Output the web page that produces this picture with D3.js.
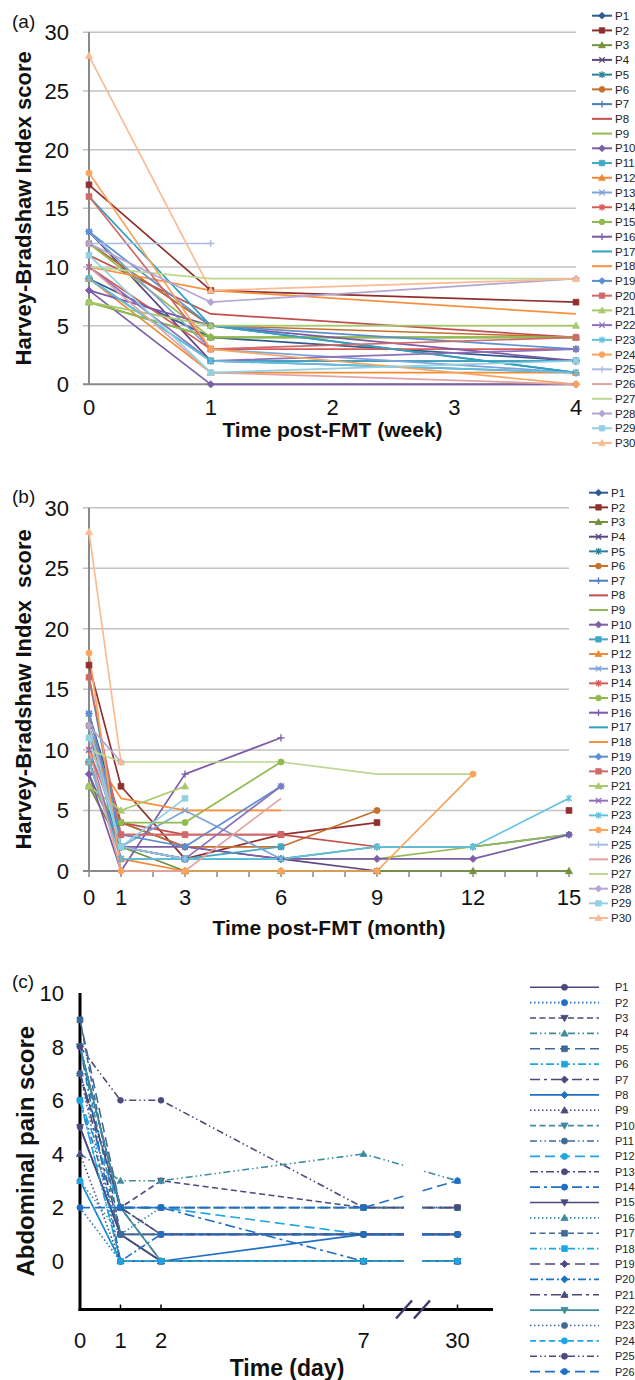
<!DOCTYPE html>
<html>
<head>
<meta charset="utf-8">
<script src="https://cdn.jsdelivr.net/npm/d3@7"></script>
<style>
  body { margin: 0; background: #fff; }
  svg { display: block; font-family: "Liberation Sans", Arial, sans-serif; }
</style>
</head>
<body>
<svg id="chart" width="635" height="1380"></svg>
<script>
// ---------- data ----------
const patients = ["P1","P2","P3","P4","P5","P6","P7","P8","P9","P10","P11","P12","P13","P14","P15",
  "P16","P17","P18","P19","P20","P21","P22","P23","P24","P25","P26","P27","P28","P29","P30"];
const hbiTicks = [0, 5, 10, 15, 20, 25, 30];

// (a) Harvey-Bradshaw Index, weeks 0 / 1 / 4
const weekTicks = [0, 1, 2, 3, 4];
const weekVisits = [0, 1, 4];
const weekScores = [
  [9, 4, 2], [17, 8, 7], [7, 4, 4], [13, 2, 2], [12, 5, 1], [12, 5, 4], [9, 2, 1], [11, 6, 4],
  [12, 4, 4], [8, 0, 0], [9, 2, 2], [9, 1, 1], [13, 3, 1], [10, 3, 3], [7, 4, 4], [8, 5, 2],
  [16, 5, 1], [10, 8, 6], [13, 5, 3], [16, 3, 4], [7, 5, 5], [10, 2, 3], [9, 2, 1], [18, 3, 0],
  [12, 12, null], [10, 1, 0], [10, 9, 9], [12, 7, 9], [11, 1, 2], [28, 8, 9]
];

// (b) Harvey-Bradshaw Index, months 0 / 1 / 3 / 6 / 9 / 12 / 15
const monthTicks = [0, 1, 3, 6, 9, 12, 15];
const monthVisits = [0, 1, 3, 6, 9, 12, 15];
const monthScores = [
  [9, 2, 1, 1, null, null, null],
  [17, 7, 1, 3, 4, null, 5],
  [7, 2, 0, 0, 0, 0, 0],
  [13, 4, 2, 1, 0, null, null],
  [12, 1, 1, 1, 2, 2, 3],
  [12, 4, 2, 2, 5, null, null],
  [9, 2, 1, 1, null, null, null],
  [11, 4, 3, 3, 2, null, null],
  [12, 2, 1, 1, 1, 2, 3],
  [8, 2, 2, 1, 1, 1, 3],
  [9, 2, 1, 2, null, null, null],
  [9, 1, 0, null, null, null, null],
  [13, 2, 5, 1, null, null, null],
  [10, 3, 3, null, null, null, null],
  [7, 4, 4, 9, null, null, null],
  [8, 0, 8, 11, null, null, null],
  [16, 2, 1, 1, null, null, null],
  [10, 6, 5, 5, null, null, null],
  [13, 3, 2, 7, null, null, null],
  [16, 3, 3, 3, null, null, null],
  [7, 5, 7, null, null, null, null],
  [10, 1, 1, 7, null, null, null],
  [9, 1, 1, 1, 2, 2, 6],
  [18, 0, 0, 0, 0, 8, null],
  [12, 2, 1, null, null, null, null],
  [10, 0, 0, 6, null, null, null],
  [10, 9, 9, 9, 8, 8, null],
  [12, 9, null, null, null, null, null],
  [11, 2, 6, null, null, null, null],
  [28, 9, null, null, null, null, null]
];

// (c) Abdominal pain score, days 0 / 1 / 2 / 7 / 30
const painPatients = patients.slice(0, 26);
const painTicks = [0, 2, 4, 6, 8, 10];
const dayTicks = [0, 1, 2, 7, 30];
const painScores = [
  [5, 1, 0, 0, 0], [2, 0, 0, 0, 0], [8, 2, 3, 2, 2], [4, 3, 3, 4, 3], [9, 2, 2, 2, 2],
  [6, 0, 0, 0, 0], [7, 1, 1, 1, 1], [3, 0, 0, 1, 1], [4, 0, 0, 0, 0], [8, 1, 0, 0, 0],
  [6, 1, 1, 1, 1], [6, 2, 2, 1, 1], [7, 2, 1, 1, 1], [8, 2, 2, 0, 0], [5, 1, 0, 0, 0],
  [3, 1, 2, 2, 2], [9, 1, 1, 1, 1], [6, 0, 0, 0, 0], [8, 2, 1, 1, 1], [8, 0, 1, 1, 1],
  [7, 2, 0, 0, 0], [8, 2, 0, 0, 0], [7, 0, 0, 0, 0], [3, 0, 0, 0, 0], [8, 6, 6, 2, 2],
  [2, 2, 2, 2, 3]
];

// ---------- styles ----------
const hbiColors = ["#2f5b8e","#8f302e","#71903a","#5d4680","#2b8299","#c5702c",
  "#4a7ec0","#c0504d","#95b956","#7b5ea6","#40a7c4","#ef8a35",
  "#7fa4d8","#d85a57","#8fbb4f","#7c5aa8","#2ea2c0","#f7903f",
  "#5c8fd0","#d06a68","#a8c96c","#8f70bb","#62c1dc","#f9a45e",
  "#a9bde3","#e2a3a2","#bcd78f","#b4a6d2","#92d0e2","#f9bc92"];
const hbiMarkers = ["diamond","square","triangle","x","star","circle",
  "plus","none","none","diamond","square","triangle",
  "x","star","circle","plus","none","none",
  "diamond","square","triangle","x","star","circle",
  "plus","none","none","diamond","square","triangle"];

const painPalette = { purple: "#4b4a7e", blue: "#1f6fc6", teal: "#3d8d9f", slate: "#3f6a98", sky: "#1ea5e4" };
const painColorKeys = ["purple","blue","purple","teal","slate","sky","purple","blue","purple","teal","slate","sky",
  "purple","blue","purple","teal","slate","sky","purple","blue","purple","teal","slate","sky","purple","blue"];
const painDashes = { solid: null, dot: "1.5,2.5", dash: "6,3.5", dashdotdot: "7,3,1.5,3,1.5,3", longdash: "10,5", dashdot: "8,3,2,3", longdashdot: "10,4,3,4" };
const painDashKeys = ["solid","dot","dash","dashdotdot","longdash","dashdot","longdashdot"];
const painMarkers = ["circle","circle","triangleDown","triangle","square","square","diamond","diamond",
  "triangle","triangleDown","circle","circle","circle","circle","triangleDown","triangle","square","square",
  "diamond","diamond","triangle","triangleDown","circle","circle","circle","circle"];

const svg = d3.select("#chart");

function markerPath(type, s) {
  switch (type) {
    case "diamond": return `M0,${-s}L${s},0L0,${s}L${-s},0Z`;
    case "square": { const h = s * 0.8; return `M${-h},${-h}H${h}V${h}H${-h}Z`; }
    case "triangle": return `M0,${-s}L${s},${s * 0.75}L${-s},${s * 0.75}Z`;
    case "triangleDown": return `M0,${s}L${s},${-s * 0.75}L${-s},${-s * 0.75}Z`;
    case "circle": return `M${-s * 0.85},0a${s * 0.85},${s * 0.85} 0 1,0 ${s * 1.7},0a${s * 0.85},${s * 0.85} 0 1,0 ${-s * 1.7},0Z`;
    case "x": { const h = s * 0.8; return `M${-h},${-h}L${h},${h}M${-h},${h}L${h},${-h}`; }
    case "plus": return `M${-s},0H${s}M0,${-s}V${s}`;
    case "star": { const h = s * 0.75; return `M${-h},${-h}L${h},${h}M${-h},${h}L${h},${-h}M0,${-s}V${s}`; }
    default: return "";
  }
}
const strokeOnly = new Set(["x", "plus", "star"]);

function drawMarker(sel, type, color, s) {
  if (type === "none") return;
  sel.append("path").attr("d", markerPath(type, s))
    .attr("fill", strokeOnly.has(type) ? "none" : color)
    .attr("stroke", color).attr("stroke-width", strokeOnly.has(type) ? 1.3 : 0.8);
}

// ---------- Harvey-Bradshaw panels ----------
function hbiPanel(o) {
  const g = svg.append("g");
  const x = d3.scaleLinear().domain(o.xDomain).range(o.xRange);
  const y = d3.scaleLinear().domain([0, 30]).range(o.yRange);
  const [x0, x1] = o.xRange;

  // gridlines, with their short outer tick
  g.append("g").selectAll("line").data(hbiTicks).join("line")
    .attr("x1", x0 - 6).attr("x2", d => d === 0 ? x0 : x1)
    .attr("y1", d => y(d)).attr("y2", d => y(d))
    .attr("stroke", "#c2c2c2").attr("stroke-width", 1.5);

  // axes
  const axisColor = "#8a8a8a";
  g.append("line").attr("x1", x0).attr("x2", x0).attr("y1", y(30)).attr("y2", y(0))
    .attr("stroke", axisColor).attr("stroke-width", 2);
  g.append("line").attr("x1", x0 - 6).attr("x2", x1).attr("y1", y(0)).attr("y2", y(0))
    .attr("stroke", axisColor).attr("stroke-width", 2);
  if (o.minorTicks) {
    g.append("g").selectAll("line").data(o.minorTicks).join("line")
      .attr("x1", d => x(d)).attr("x2", d => x(d)).attr("y1", y(0)).attr("y2", y(0) + 6)
      .attr("stroke", axisColor).attr("stroke-width", 1.5);
  }

  g.append("g").selectAll("text").data(hbiTicks).join("text")
    .attr("x", x0 - 20).attr("y", d => y(d)).attr("dy", "0.36em")
    .attr("text-anchor", "end").attr("font-size", 22).attr("fill", "#111").text(d => d);
  g.append("g").selectAll("text").data(o.xTicks).join("text")
    .attr("x", d => x(d)).attr("y", y(0) + o.xLabelOffset)
    .attr("text-anchor", "middle").attr("font-size", 22).attr("fill", "#111").text(d => d);

  g.append("text").attr("x", (x0 + x1) / 2).attr("y", y(0) + o.xTitleOffset)
    .attr("text-anchor", "middle").attr("font-size", 21).attr("font-weight", "bold")
    .attr("fill", "#111").text(o.xTitle);
  g.append("text").attr("transform", `translate(31,${(y(0) + y(30)) / 2}) rotate(-90)`)
    .attr("text-anchor", "middle").attr("font-size", 22).attr("font-weight", "bold")
    .style("white-space", "pre").attr("fill", "#111").text(o.yTitle);
  g.append("text").attr("x", 12).attr("y", o.tagY).attr("font-size", 19).attr("fill", "#111").text(o.tag);

  // series
  const line = d3.line().defined(d => d[1] != null).x(d => x(d[0])).y(d => y(d[1]));
  const series = o.scores.map((vals, i) => ({ i, pts: vals.map((v, k) => [o.visits[k], v]) }));
  g.append("g").selectAll("path").data(series).join("path")
    .attr("d", d => line(d.pts)).attr("fill", "none")
    .attr("stroke", d => hbiColors[d.i]).attr("stroke-width", 1.7).attr("stroke-linejoin", "round");
  series.forEach(s => {
    s.pts.filter(p => p[1] != null).forEach(p => {
      const m = g.append("g").attr("transform", `translate(${x(p[0])},${y(p[1])})`);
      drawMarker(m, hbiMarkers[s.i], hbiColors[s.i], 3.6);
    });
  });

  // legend
  const ly = d3.scalePoint().domain(patients).range(o.legendY);
  const lg = g.append("g").selectAll("g").data(patients).join("g")
    .attr("transform", d => `translate(0,${ly(d)})`);
  lg.append("line").attr("x1", o.legendX[0]).attr("x2", o.legendX[1])
    .attr("stroke", (d, i) => hbiColors[i]).attr("stroke-width", 2);
  lg.each(function (d, i) {
    const m = d3.select(this).append("g").attr("transform", `translate(${(o.legendX[0] + o.legendX[1]) / 2},0)`);
    drawMarker(m, hbiMarkers[i], hbiColors[i], 3.4);
  });
  lg.append("text").attr("x", o.legendX[1] + 3).attr("dy", "0.36em")
    .attr("font-size", 11.5).attr("fill", "#222").text(d => d);
}

hbiPanel({
  xDomain: [0, 4], xRange: [89, 576], yRange: [384.3, 32.3],
  xTicks: weekTicks, visits: weekVisits, scores: weekScores,
  xLabelOffset: 31, xTitleOffset: 53,
  xTitle: "Time post-FMT (week)", yTitle: "Harvey-Bradshaw Index score",
  tag: "(a)", tagY: 28, legendY: [15.7, 443], legendX: [592, 612]
});

hbiPanel({
  xDomain: [0, 15], xRange: [89, 569], yRange: [871, 507.7],
  xTicks: monthTicks, visits: monthVisits, scores: monthScores,
  minorTicks: d3.range(0, 16),
  xLabelOffset: 34, xTitleOffset: 64,
  xTitle: "Time post-FMT (month)", yTitle: "Harvey-Bradshaw Index  score",
  tag: "(b)", tagY: 503, legendY: [492.7, 918], legendX: [589, 608]
});

// ---------- Abdominal pain panel ----------
(function painPanel() {
  const g = svg.append("g");
  // day 7 → day 30 is shown across an axis break between day 8 and day 28
  const x = d3.scaleLinear().domain([0, 8, 28, 32]).range([80, 404, 422, 493]);
  const y = d3.scaleLinear().domain([-1.8, 10]).range([1309.5, 993]);
  const axisY = y(-1.8);

  g.append("line").attr("x1", x(0)).attr("x2", x(0)).attr("y1", y(10)).attr("y2", axisY + 1.5)
    .attr("stroke", "#000").attr("stroke-width", 3);
  g.append("line").attr("x1", x(0) - 1.5).attr("x2", x(32)).attr("y1", axisY).attr("y2", axisY)
    .attr("stroke", "#000").attr("stroke-width", 3);
  g.append("g").selectAll("line").data(dayTicks).join("line")
    .attr("x1", d => x(d)).attr("x2", d => x(d)).attr("y1", axisY).attr("y2", axisY - 5)
    .attr("stroke", "#000").attr("stroke-width", 1.5);

  g.append("g").selectAll("text").data(painTicks).join("text")
    .attr("x", 64).attr("y", d => y(d)).attr("dy", "0.36em")
    .attr("text-anchor", "end").attr("font-size", 22).attr("fill", "#111").text(d => d);
  g.append("g").selectAll("text").data(dayTicks).join("text")
    .attr("x", d => x(d)).attr("y", axisY + 38)
    .attr("text-anchor", "middle").attr("font-size", 22).attr("fill", "#111").text(d => d);

  g.append("text").attr("x", 287).attr("y", 1376).attr("text-anchor", "middle")
    .attr("font-size", 23).attr("font-weight", "bold").attr("fill", "#111").text("Time (day)");
  g.append("text").attr("transform", `translate(34,${(y(10) + axisY) / 2}) rotate(-90)`)
    .attr("text-anchor", "middle").attr("font-size", 24).attr("font-weight", "bold")
    .attr("fill", "#111").text("Abdominal pain score");
  g.append("text").attr("x", 12).attr("y", 988).attr("font-size", 19).attr("fill", "#111").text("(c)");

  const line = d3.line().x(d => x(d[0])).y(d => y(d[1]));
  const series = painScores.map((vals, i) => ({ i, pts: vals.map((v, k) => [dayTicks[k], v]) }));
  const color = i => painPalette[painColorKeys[i]];
  const dash = i => painDashes[painDashKeys[i % 7]];

  g.append("g").selectAll("path").data(series).join("path")
    .attr("d", d => line(d.pts)).attr("fill", "none")
    .attr("stroke", d => color(d.i)).attr("stroke-width", 1.6)
    .attr("stroke-dasharray", d => dash(d.i));

  // white gap for the axis break
  g.append("rect").attr("x", x(8)).attr("width", x(28) - x(8))
    .attr("y", y(10) - 4).attr("height", axisY - 3 - (y(10) - 4)).attr("fill", "#fff");

  series.forEach(s => {
    s.pts.forEach(p => {
      const m = g.append("g").attr("transform", `translate(${x(p[0])},${y(p[1])})`);
      drawMarker(m, painMarkers[s.i], color(s.i), 3.4);
    });
  });

  // break marks
  g.append("g").selectAll("line").data([8, 28]).join("line")
    .attr("x1", d => x(d) - 8).attr("x2", d => x(d) + 8)
    .attr("y1", axisY + 9).attr("y2", axisY - 9)
    .attr("stroke", "#3d3c70").attr("stroke-width", 2.5);

  // legend
  const ly = d3.scalePoint().domain(painPatients).range([987.3, 1371.6]);
  const lg = g.append("g").selectAll("g").data(painPatients).join("g")
    .attr("transform", d => `translate(0,${ly(d)})`);
  lg.append("line").attr("x1", 530).attr("x2", 599)
    .attr("stroke", (d, i) => color(i)).attr("stroke-width", 1.6)
    .attr("stroke-dasharray", (d, i) => dash(i));
  lg.each(function (d, i) {
    const m = d3.select(this).append("g").attr("transform", "translate(564.5,0)");
    drawMarker(m, painMarkers[i], color(i), 3.6);
  });
  lg.append("text").attr("x", 615).attr("dy", "0.36em")
    .attr("font-size", 11).attr("fill", "#222").text(d => d);
})();
</script>
</body>
</html>
